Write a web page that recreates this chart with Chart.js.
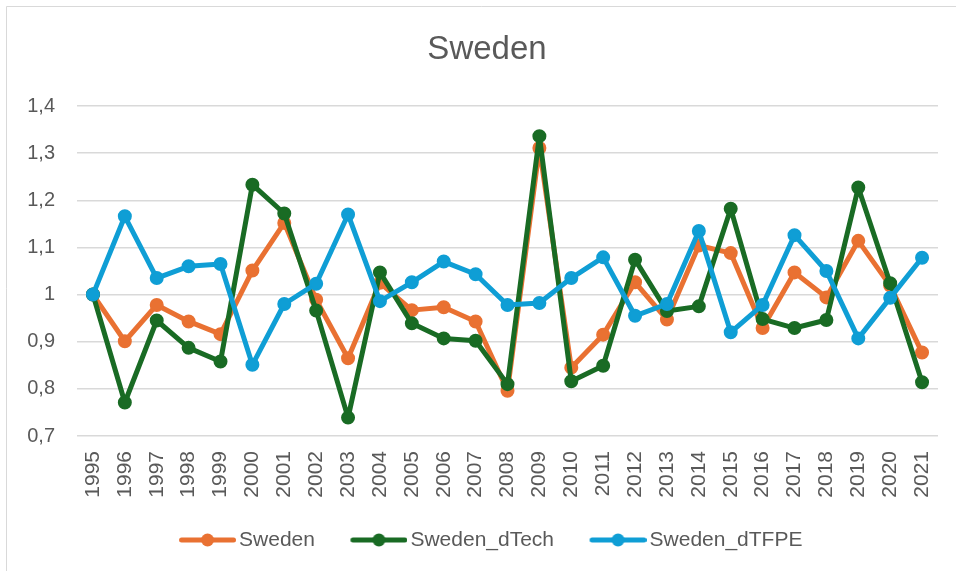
<!DOCTYPE html>
<html>
<head>
<meta charset="utf-8">
<script src="https://cdn.jsdelivr.net/npm/chart.js@4.4.1/dist/chart.umd.min.js"></script>
<style>
  html, body { margin: 0; padding: 0; background: #fff; overflow: hidden; }
  canvas { display: block; }
</style>
</head>
<body>
<canvas id="chart" width="956" height="571"></canvas>
<script>
const years = ['1995', '1996', '1997', '1998', '1999', '2000', '2001', '2002', '2003', '2004',
  '2005', '2006', '2007', '2008', '2009', '2010', '2011', '2012', '2013', '2014',
  '2015', '2016', '2017', '2018', '2019', '2020', '2021'];

const sweden = [1.000, 0.901, 0.978, 0.943, 0.916, 1.051, 1.152, 0.989, 0.865, 1.025,
  0.967, 0.973, 0.943, 0.796, 1.311, 0.845, 0.915, 1.026, 0.947, 1.104,
  1.088, 0.929, 1.047, 0.994, 1.114, 1.019, 0.877];

const swedenDTech = [1.000, 0.771, 0.945, 0.887, 0.858, 1.233, 1.172, 0.966, 0.739, 1.047,
  0.939, 0.907, 0.902, 0.810, 1.336, 0.816, 0.849, 1.074, 0.965, 0.975,
  1.182, 0.948, 0.929, 0.946, 1.227, 1.024, 0.814];

const swedenDTFPE = [1.000, 1.166, 1.035, 1.060, 1.065, 0.851, 0.980, 1.023, 1.170, 0.986,
  1.026, 1.070, 1.043, 0.978, 0.982, 1.035, 1.079, 0.955, 0.980, 1.135,
  0.920, 0.978, 1.126, 1.050, 0.907, 0.993, 1.078];

const chartTitle = 'Sweden';
const seriesNames = ['Sweden', 'Sweden_dTech', 'Sweden_dTFPE'];
const seriesColors = ['#E97132', '#196B24', '#0F9ED5'];
const yMin = 0.7;
const yMax = 1.4;
const yStep = 0.1;

const textColor = '#595959';
const fontFamily = '"Liberation Sans", Arial, sans-serif';

// legend swatch: line with a dot, like the Excel legend
function legendMarker(color) {
  const c = document.createElement('canvas');
  c.width = 90;
  c.height = 16;
  const g = c.getContext('2d');
  g.strokeStyle = color;
  g.lineWidth = 5;
  g.lineCap = 'round';
  g.beginPath();
  g.moveTo(35.5, 8);
  g.lineTo(87.5, 8);
  g.stroke();
  g.fillStyle = color;
  g.beginPath();
  g.arc(61.5, 8, 6.5, 0, Math.PI * 2);
  g.fill();
  return c;
}
const markers = seriesColors.map(legendMarker);

// white background, light frame on top/left edge, and the title
const frame = {
  id: 'frame',
  beforeDraw(chart) {
    const ctx = chart.ctx;
    ctx.save();
    ctx.fillStyle = '#fff';
    ctx.fillRect(0, 0, chart.width, chart.height);
    ctx.strokeStyle = '#d9d9d9';
    ctx.lineWidth = 1;
    ctx.beginPath();
    ctx.moveTo(6.5, chart.height);
    ctx.lineTo(6.5, 6.5);
    ctx.lineTo(chart.width, 6.5);
    ctx.stroke();
    ctx.fillStyle = textColor;
    ctx.font = '33px ' + fontFamily;
    ctx.textAlign = 'center';
    ctx.textBaseline = 'middle';
    ctx.fillText(chartTitle, 487, 50);
    ctx.restore();
  }
};

function makeDataset(label, data, color, order) {
  return {
    label: label,
    data: data,
    borderColor: color,
    backgroundColor: color,
    borderWidth: 5,
    borderJoinStyle: 'round',
    pointRadius: 6,
    pointBorderWidth: 2,
    pointBackgroundColor: color,
    pointBorderColor: color,
    tension: 0,
    order: order
  };
}

const ctx = document.getElementById('chart').getContext('2d');
new Chart(ctx, {
  type: 'line',
  data: {
    labels: years,
    datasets: [
      makeDataset(seriesNames[0], sweden, seriesColors[0], 3),
      makeDataset(seriesNames[1], swedenDTech, seriesColors[1], 2),
      makeDataset(seriesNames[2], swedenDTFPE, seriesColors[2], 1)
    ]
  },
  options: {
    responsive: false,
    animation: false,
    layout: {
      padding: { left: 18, right: 18, top: 106, bottom: 10.5 }
    },
    scales: {
      x: {
        offset: true,
        grid: { display: false, drawTicks: false },
        border: { display: false },
        ticks: {
          autoSkip: false,
          minRotation: 90,
          maxRotation: 90,
          padding: 15,
          color: textColor,
          font: { family: fontFamily, size: 21 }
        },
        afterFit(scale) {
          scale.height = 83.5;
          scale.paddingLeft = 0;
          scale.paddingRight = 0;
        }
      },
      y: {
        min: yMin,
        max: yMax,
        grid: { color: '#d9d9d9', lineWidth: 1.5, drawTicks: false },
        border: { display: false },
        ticks: {
          stepSize: yStep,
          padding: 22,
          color: textColor,
          font: { family: fontFamily, size: 20 },
          callback: v => String(Math.round(v * 10) / 10).replace('.', ',')
        },
        afterFit(scale) { scale.width = 59; }
      }
    },
    plugins: {
      title: { display: false },
      legend: {
        position: 'bottom',
        labels: {
          usePointStyle: true,
          pointStyleWidth: 75,
          padding: 10,
          color: textColor,
          font: { family: fontFamily, size: 21 },
          sort: (a, b) => a.datasetIndex - b.datasetIndex,
          generateLabels(chart) {
            return Chart.defaults.plugins.legend.labels.generateLabels(chart).map(l => {
              l.pointStyle = markers[l.datasetIndex];
              return l;
            });
          }
        }
      },
      tooltip: { enabled: false }
    }
  },
  plugins: [frame]
});
</script>
</body>
</html>
